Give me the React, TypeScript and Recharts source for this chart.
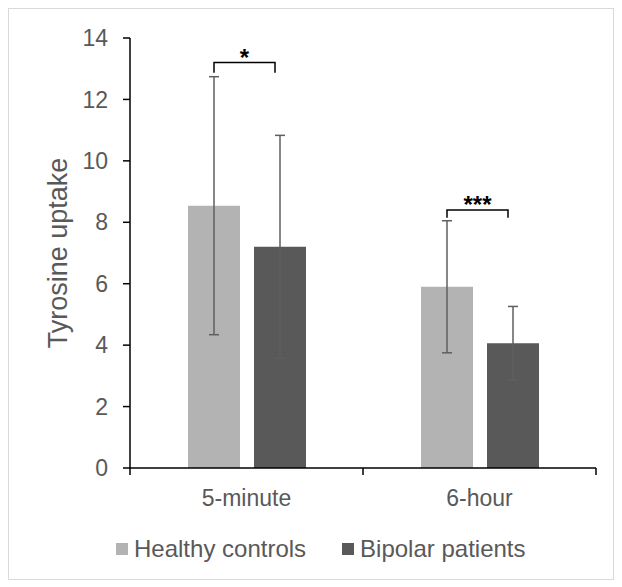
import React from 'react';
import { BarChart, Bar, XAxis, YAxis, ErrorBar, Legend, LabelList } from 'recharts';

const categories = ['5-minute', '6-hour'];
const seriesNames = ['Healthy controls', 'Bipolar patients'];
const healthy = [8.54, 5.9];
const healthyErr = [4.2, 2.15];
const bipolar = [7.2, 4.06];
const bipolarErr = [3.63, 1.2];
// significance brackets: top level, leg end, stars
const bracketTop = [13.2, 8.4];
const bracketLeg = [12.87, 8.15];
const bracketStars = ['*', '***'];
const yTicks = [0, 2, 4, 6, 8, 10, 12, 14];

const data = categories.map((name, i) => ({
  name,
  healthy: healthy[i],
  healthyErr: healthyErr[i],
  bipolar: bipolar[i],
  bipolarErr: bipolarErr[i],
}));

const FONT = '"Liberation Sans", Arial, sans-serif';
const TEXT = '#595959';
const BAR_SIZE = 52;
const BAR_GAP = 14;
const TICK_MARGIN = 22;

const CategoryTick = (props: any) => {
  const { x, y, payload, index, width, visibleTicksCount } = props;
  const band = width / visibleTicksCount;
  const axisY = y - TICK_MARGIN;
  return (
    <g>
      {index === 0 && (
        <line x1={x - band / 2} x2={x - band / 2} y1={axisY} y2={axisY + 7} stroke="#000" strokeWidth={1.5} />
      )}
      <line x1={x + band / 2} x2={x + band / 2} y1={axisY} y2={axisY + 7} stroke="#000" strokeWidth={1.5} />
      <text x={x} y={y} dy="0.71em" textAnchor="middle" fill={TEXT} fontSize={23} fontFamily={FONT}>
        {payload.value}
      </text>
    </g>
  );
};

const Bracket = (props: any) => {
  const vb = props.viewBox || props;
  const { index, value } = props;
  const x = Number(vb.x);
  const y = Number(vb.y);
  const w = Number(vb.width);
  const h = Number(vb.height);
  const bottom = y + h;
  const perUnit = h / Number(value);
  const yTop = bottom - bracketTop[index] * perUnit;
  const yLeg = bottom - bracketLeg[index] * perUnit;
  const x1 = x + w / 2;
  const x2 = x + w + BAR_GAP + w / 2 - 5;
  return (
    <g>
      <path
        d={`M${x1},${yLeg} L${x1},${yTop} L${x2},${yTop} L${x2},${yLeg}`}
        fill="none"
        stroke="#000"
        strokeWidth={1.5}
      />
      <text
        x={(x1 + x2) / 2}
        y={yTop + 3}
        textAnchor="middle"
        fontSize={24}
        fontWeight="bold"
        fontFamily={FONT}
        fill="#000"
      >
        {bracketStars[index]}
      </text>
    </g>
  );
};

const LegendContent = (props: any) => {
  const items = [...(props.payload || [])].sort(
    (a: any, b: any) => seriesNames.indexOf(a.value) - seriesNames.indexOf(b.value)
  );
  return (
    <div style={{ height: 30, display: 'flex', alignItems: 'center', paddingLeft: 107 }}>
      {items.map((p: any, i: number) => (
        <div key={i} style={{ display: 'flex', alignItems: 'center', marginRight: 36 }}>
          <span style={{ width: 12, height: 12, background: p.color, display: 'inline-block', marginRight: 6 }} />
          <span style={{ fontSize: 24, color: TEXT, fontFamily: FONT, lineHeight: '30px' }}>{p.value}</span>
        </div>
      ))}
    </div>
  );
};

export default function App() {
  return (
    <div style={{ width: 604, height: 570, border: '1px solid #d9d9d9', background: '#fff' }}>
      <BarChart
        width={604}
        height={570}
        data={data}
        margin={{ top: 29, right: 17, left: 0, bottom: 15 }}
        barSize={BAR_SIZE}
        barGap={BAR_GAP}
      >
        <XAxis
          dataKey="name"
          height={66}
          tickLine={false}
          tickSize={0}
          tickMargin={TICK_MARGIN}
          axisLine={{ stroke: '#000', strokeWidth: 1.5 }}
          tick={<CategoryTick />}
        />
        <YAxis
          width={121}
          domain={[0, 14]}
          ticks={yTicks}
          interval={0}
          tickSize={7}
          tickMargin={15}
          axisLine={{ stroke: '#000', strokeWidth: 1.5 }}
          tickLine={{ stroke: '#000', strokeWidth: 1.5 }}
          tick={{ fill: TEXT, fontSize: 23, fontFamily: FONT }}
          label={{
            value: 'Tyrosine uptake',
            angle: -90,
            position: 'insideLeft',
            offset: 48,
            style: { textAnchor: 'middle', fill: TEXT, fontSize: 27, fontFamily: FONT },
          }}
        />
        <Legend verticalAlign="bottom" content={<LegendContent />} />
        <Bar dataKey="healthy" name={seriesNames[0]} fill="#b3b3b3" isAnimationActive={false}>
          <ErrorBar dataKey="healthyErr" direction="y" width={5} stroke="#5f5f5f" strokeWidth={1.5} isAnimationActive={false} />
          <LabelList dataKey="healthy" content={<Bracket />} />
        </Bar>
        <Bar dataKey="bipolar" name={seriesNames[1]} fill="#595959" isAnimationActive={false}>
          <ErrorBar dataKey="bipolarErr" direction="y" width={5} stroke="#5f5f5f" strokeWidth={1.5} isAnimationActive={false} />
        </Bar>
      </BarChart>
    </div>
  );
}
